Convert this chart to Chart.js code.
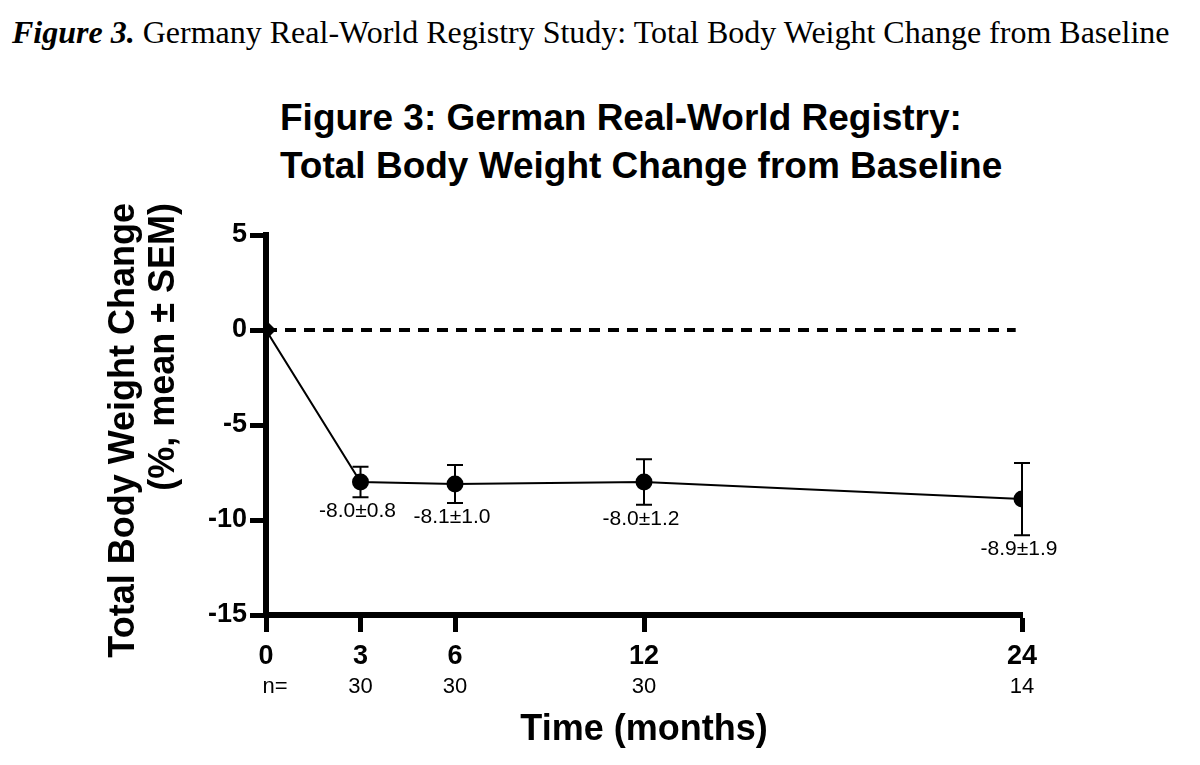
<!DOCTYPE html>
<html>
<head>
<meta charset="utf-8">
<script src="https://cdn.jsdelivr.net/npm/chart.js@4.4.0/dist/chart.umd.min.js"></script>
<style>
  html, body { margin: 0; padding: 0; background: #fff; width: 1200px; height: 765px; overflow: hidden; }
  #caption { position: absolute; left: 12px; top: 14px; font-family: "Liberation Serif", "Times New Roman", serif; font-size: 32px; line-height: 36px; color: #000; white-space: nowrap; }
  #caption b { font-style: italic; }
  #title { position: absolute; left: 280px; top: 94px; font-family: "Liberation Sans", Arial, sans-serif; font-weight: bold; font-size: 37px; line-height: 48px; color: #000; white-space: nowrap; }
  #ytitle { position: absolute; left: 102px; top: 723px; width: 520px; transform-origin: 0 0; transform: rotate(-90deg); text-align: right; font-family: "Liberation Sans", Arial, sans-serif; font-weight: bold; font-size: 36px; line-height: 40px; color: #000; white-space: nowrap; z-index: 2; }
  #wrap { position: absolute; left: 0; top: 0; width: 1200px; height: 765px; }
</style>
</head>
<body>
<div id="caption"><b>Figure 3.</b> Germany Real-World Registry Study: Total Body Weight Change from Baseline</div>
<div id="title">Figure 3: German Real-World Registry:<br>Total Body Weight Change from Baseline</div>
<div id="ytitle">Total Body Weight Change<br>(%, mean &plusmn; SEM)</div>
<div id="wrap"><canvas id="c" width="1200" height="765"></canvas></div>
<script>
// ---- data ----
const months = [0, 3, 6, 12, 24];
const meanChange = [0, -8.0, -8.1, -8.0, -8.9];
const semValues = [0, 0.8, 1.0, 1.2, 1.9];
const pointLabels = ['', '-8.0\u00b10.8', '-8.1\u00b11.0', '-8.0\u00b11.2', '-8.9\u00b11.9'];
const nLabels = ['n=', '30', '30', '30', '14'];
const xTicks = [0, 3, 6, 12, 24];
const yTicks = [5, 0, -5, -10, -15];
const refLineX = [0, 23.8];
const refLineY = [0, 0];

const FONT = '"Liberation Sans", Arial, sans-serif';

const errorBarPlugin = {
  id: 'errorBars',
  afterDatasetsDraw(chart) {
    const ctx = chart.ctx;
    const xs = chart.scales.x, ys = chart.scales.y;
    ctx.save();
    ctx.strokeStyle = '#000';
    ctx.lineWidth = 2;
    months.forEach((m, i) => {
      if (!semValues[i]) return;
      const px = xs.getPixelForValue(m);
      const top = ys.getPixelForValue(meanChange[i] + semValues[i]);
      const bot = ys.getPixelForValue(meanChange[i] - semValues[i]);
      ctx.beginPath();
      ctx.moveTo(px, top); ctx.lineTo(px, bot);
      ctx.moveTo(px - 8, top); ctx.lineTo(px + 8, top);
      ctx.moveTo(px - 8, bot); ctx.lineTo(px + 8, bot);
      ctx.stroke();
    });
    // value labels
    ctx.fillStyle = '#000';
    ctx.font = '21px ' + FONT;
    ctx.textAlign = 'center';
    ctx.textBaseline = 'middle';
    months.forEach((m, i) => {
      if (!pointLabels[i]) return;
      const px = xs.getPixelForValue(m);
      const bot = ys.getPixelForValue(meanChange[i] - semValues[i]);
      ctx.fillText(pointLabels[i], px - 3, bot + 14);
    });
    // n row
    ctx.font = '22px ' + FONT;
    months.forEach((m, i) => {
      const px = xs.getPixelForValue(m);
      ctx.fillText(nLabels[i], px + (i === 0 ? 9 : 0), ys.bottom + 72);
    });
    ctx.restore();
  }
};

new Chart(document.getElementById('c'), {
  type: 'scatter',
  data: {
    datasets: [
      {
        label: 'Baseline',
        data: refLineX.map((x, i) => ({ x: x, y: refLineY[i] })),
        showLine: true,
        borderColor: '#000',
        borderWidth: 4,
        borderDash: [11, 8],
        pointRadius: 0,
        order: 2
      },
      {
        label: 'Total body weight change',
        data: months.map((m, i) => ({ x: m, y: meanChange[i] })),
        showLine: true,
        borderColor: '#000',
        borderWidth: 2,
        backgroundColor: '#000',
        pointBackgroundColor: '#000',
        pointBorderColor: '#000',
        pointStyle: months.map((m, i) => i === 0 ? 'rectRot' : 'circle'),
        pointRadius: months.map((m, i) => i === 0 ? 10 : 8.5),
        pointBorderWidth: 0,
        order: 1
      }
    ]
  },
  plugins: [errorBarPlugin],
  options: {
    responsive: false,
    animation: false,
    devicePixelRatio: 1,
    layout: { padding: { left: 0, right: 178, top: 235, bottom: 0 } },
    plugins: { legend: { display: false }, tooltip: { enabled: false }, title: { display: false } },
    scales: {
      x: {
        type: 'linear',
        min: 0, max: 24,
        afterBuildTicks: (s) => { s.ticks = xTicks.map(v => ({ value: v })); },
        afterFit: (s) => { s.height = 150; },
        border: { display: true, color: '#000', width: 6 },
        grid: { drawOnChartArea: false, drawTicks: true, tickLength: 17, tickWidth: 5, tickColor: '#000' },
        ticks: { color: '#000', font: { family: FONT, size: 27, weight: 'bold' }, padding: 8, maxRotation: 0, autoSkip: false },
        title: { display: true, text: 'Time (months)', color: '#000', font: { family: FONT, size: 36, weight: 'bold' }, padding: { top: 0, bottom: 13 } }
      },
      y: {
        type: 'linear',
        min: -15, max: 5,
        afterBuildTicks: (s) => { s.ticks = yTicks.map(v => ({ value: v })); },
        afterFit: (s) => { s.width = 266; },
        border: { display: true, color: '#000', width: 6 },
        grid: { drawOnChartArea: false, drawTicks: true, tickLength: 16, tickWidth: 5, tickColor: '#000' },
        ticks: { color: '#000', font: { family: FONT, size: 27, weight: 'bold' }, padding: 3 },
        title: { display: false }
      }
    }
  }
});
</script>
</body>
</html>
